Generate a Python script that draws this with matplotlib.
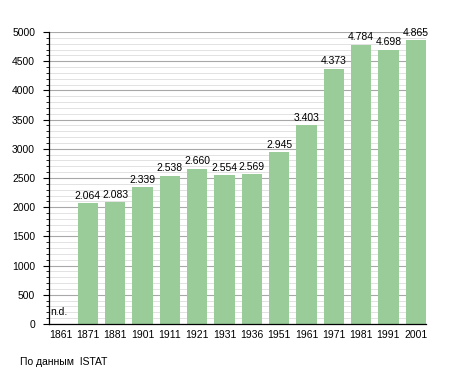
import matplotlib
matplotlib.use("Agg")
import matplotlib.pyplot as plt
from matplotlib.ticker import MultipleLocator

years = ["1861", "1871", "1881", "1901", "1911", "1921", "1931",
         "1936", "1951", "1961", "1971", "1981", "1991", "2001"]
population = [None, 2064, 2083, 2339, 2538, 2660, 2554,
              2569, 2945, 3403, 4373, 4784, 4698, 4865]
source_note = "По данным  ISTAT"

plt.rcParams['font.family'] = ['Liberation Sans', 'DejaVu Sans']

fig = plt.figure(figsize=(4.55, 3.73), dpi=100)
ax = fig.add_axes([49 / 455, 49 / 373, 377 / 455, 292 / 373])

bar_w = 0.75
green = '#99cc99'
xs = list(range(len(years)))

for x, v in zip(xs, population):
    if v is None:
        ax.text(x - 0.38, 120, "n.d.", fontsize=7.5, ha='left', va='bottom')
        continue
    ax.bar(x, v, width=bar_w, color=green, zorder=2)
    label = f"{v:,}".replace(",", ".")
    ax.text(x, v + 40, label, fontsize=7.5, ha='center', va='bottom', zorder=3)

ax.set_xlim(-0.42, 13 + bar_w / 2)
ax.set_ylim(0, 5000)
ax.set_xticks(xs)
ax.set_xticklabels(years, fontsize=7.5)
ax.tick_params(axis='x', length=0, pad=4)

ax.yaxis.set_major_locator(MultipleLocator(500))
ax.yaxis.set_minor_locator(MultipleLocator(100))
ax.tick_params(axis='y', which='major', length=4, width=0.8, labelsize=7.5, pad=6)
ax.tick_params(axis='y', which='minor', length=2.5, width=0.6)
ax.grid(axis='y', which='major', color='#a8a8a8', linewidth=0.8, zorder=0)
ax.grid(axis='y', which='minor', color='#e2e2e2', linewidth=0.7, zorder=0)
ax.set_axisbelow(True)

for side in ('top', 'right'):
    ax.spines[side].set_visible(False)
ax.spines['left'].set_linewidth(0.9)
ax.spines['bottom'].set_linewidth(0.9)

fig.text(20 / 455, 1 - 362 / 373, source_note, fontsize=7.5, ha='left', va='center')

fig.savefig("out.png", dpi=100)
